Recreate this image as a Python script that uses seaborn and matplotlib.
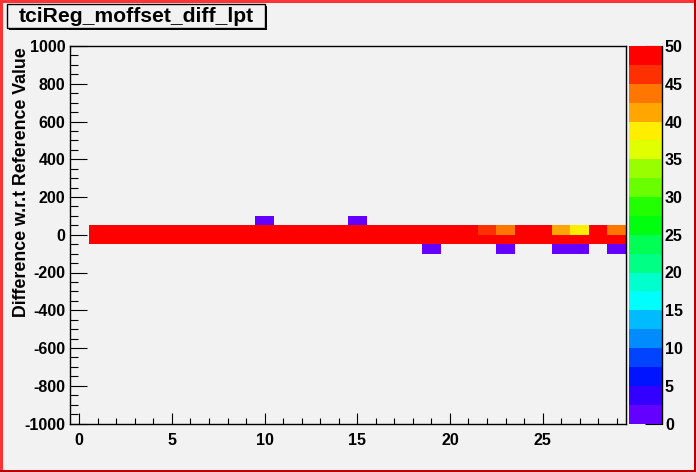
import colorsys
import numpy as np
import pandas as pd
import seaborn as sns
import matplotlib.pyplot as plt
from matplotlib.colors import ListedColormap
from matplotlib.patches import Rectangle

# Chart text
title = "tciReg_moffset_diff_lpt"
y_title = "Difference w.r.t Reference Value"

# Histogram binning: 30 x bins of width 1, 40 y bins of width 50
x_lo, x_hi, x_bw = -0.5, 29.5, 1.0
y_lo, y_hi, y_bw = -1000, 1000, 50

# Filled x bins and the entries in each filled y row
x_bins = [1, 2, 3, 4, 5, 6, 7, 8, 9, 10, 11, 12, 13, 14, 15,
          16, 17, 18, 19, 20, 21, 22, 23, 24, 25, 26, 27, 28, 29]
row_m100 = [0, 0, 0, 0, 0, 0, 0, 0, 0, 0, 0, 0, 0, 0, 0,
            0, 0, 0, 1, 0, 0, 0, 1, 0, 0, 1, 1, 0, 1]
row_m50 = [50, 50, 50, 50, 50, 50, 50, 50, 50, 50, 50, 50, 50, 50, 50,
           50, 50, 50, 50, 50, 50, 50, 50, 50, 50, 50, 50, 50, 50]
row_0 = [50, 50, 50, 50, 50, 50, 50, 50, 50, 50, 50, 50, 50, 50, 50,
         50, 50, 50, 50, 50, 50, 46, 44, 50, 50, 41, 39, 50, 44]
row_50 = [0, 0, 0, 0, 0, 0, 0, 0, 0, 1, 0, 0, 0, 0, 1,
          0, 0, 0, 0, 0, 0, 0, 0, 0, 0, 0, 0, 0, 0]
rows = {-100: row_m100, -50: row_m50, 0: row_0, 50: row_50}

x_ticks = [0, 5, 10, 15, 20, 25]
y_ticks = [-1000, -800, -600, -400, -200, 0, 200, 400, 600, 800, 1000]
z_ticks = [0, 5, 10, 15, 20, 25, 30, 35, 40, 45, 50]

# ROOT "pretty" palette with 20 contour levels
pal = []
for j in range(20):
    k = int((j + 0.99) * 50 / 20)
    if k == 49:
        pal.append((1.0, 0.0, 0.0))
    else:
        hue = 280 - (k + 1) * 5.6
        pal.append(colorsys.hls_to_rgb(hue / 360.0, 0.5, 1.0))
cmap = ListedColormap(pal)

# Build grid (top row first, as heatmap draws it)
nx = int(round((x_hi - x_lo) / x_bw))
ny = int((y_hi - y_lo) / y_bw)
z = np.zeros((ny, nx))
for y_low, vals in rows.items():
    r = ny - 1 - int((y_low - y_lo) / y_bw)
    for xb, v in zip(x_bins, vals):
        z[r, int(round(xb - x_lo - 0.5))] = v
df = pd.DataFrame(z)

sns.set_style("ticks")
plt.rcParams['font.family'] = ['Liberation Sans', 'DejaVu Sans']
plt.rcParams['font.weight'] = 'bold'
plt.rcParams['text.color'] = 'black'
plt.rcParams['xtick.color'] = 'black'
plt.rcParams['ytick.color'] = 'black'
bg = '#f2f2f2'

W, H = 696, 472
fig = plt.figure(figsize=(W / 100, H / 100), dpi=100, facecolor=bg)


def fr(x0, y0, x1, y1):
    # pixel box (top-left origin) -> figure fraction rect
    return [x0 / W, 1 - y1 / H, (x1 - x0) / W, (y1 - y0) / H]


ax = fig.add_axes(fr(70, 46, 626, 423.5))
cax = fig.add_axes(fr(629, 46, 661.5, 423.5))
ax.set_facecolor(bg)

sns.heatmap(df, mask=(df == 0), cmap=cmap, vmin=0, vmax=50, ax=ax,
            cbar_ax=cax, xticklabels=False, yticklabels=False)

for s in ax.spines.values():
    s.set_visible(True)
    s.set_color('black')
    s.set_linewidth(1)

# map data values to heatmap cell coordinates
ax.set_xticks([(v - x_lo) / x_bw for v in x_ticks])
ax.set_xticklabels([str(v) for v in x_ticks])
ax.set_xticks([(v - x_lo) / x_bw for v in range(0, 30)], minor=True)
ax.set_yticks([(y_hi - v) / y_bw for v in y_ticks])
ax.set_yticklabels([str(v) for v in y_ticks])
ax.set_yticks([(y_hi - v) / y_bw for v in range(-1000, 1001, 50)], minor=True)

ax.tick_params(axis='x', which='major', direction='in', length=8.1, width=0.8,
               pad=7, labelsize=11.5, top=False, bottom=True, colors='black')
ax.tick_params(axis='x', which='minor', direction='in', length=4.1, width=0.8,
               top=False, bottom=True)
ax.tick_params(axis='y', which='major', direction='in', length=12, width=0.8,
               pad=3.5, labelsize=11.5, left=True, right=False, colors='black')
ax.tick_params(axis='y', which='minor', direction='in', length=6, width=0.8,
               left=True, right=False)
for lab in ax.get_xticklabels() + ax.get_yticklabels():
    lab.set_fontweight('bold')
    lab.set_rotation(0)
ax.set_xlabel("")
ax.set_ylabel("")

# colour scale
cbar = ax.collections[0].colorbar
cbar.outline.set_visible(False)
cbar.set_ticks(z_ticks)
cbar.set_ticklabels([str(v) for v in z_ticks])
cax.tick_params(direction='in', length=12, width=0.8, right=True, left=False,
                pad=2.5, labelsize=11.5, colors='black')
for lab in cax.get_yticklabels():
    lab.set_fontweight('bold')
cax.axvline(1, color='black', lw=1, clip_on=False)

# axis title, right-aligned to top of frame
fig.text(22 / W, 1 - 47 / H, y_title, rotation=90, ha='center', va='top',
         fontsize=12.8, fontweight='bold', color='black')

# title box with shadow
sh = fr(9, 6, 267, 30)
fig.patches.append(Rectangle(sh[:2], sh[2], sh[3], transform=fig.transFigure,
                             facecolor='black', edgecolor='none'))
bx = fr(7, 4, 265, 28)
fig.patches.append(Rectangle(bx[:2], bx[2], bx[3], transform=fig.transFigure,
                             facecolor=bg, edgecolor='black', linewidth=1))
fig.text(136 / W, 1 - 16.5 / H, title, ha='center', va='center',
         fontsize=15.2, fontweight='bold', color='black')

# canvas border
light, dark = '#ff3333', '#bb0000'
for box, col in [((0, 0, 696, 2.5), light), ((0, 0, 2.5, 472), light),
                 ((693.5, 0, 696, 472), dark), ((0, 469.5, 696, 472), dark)]:
    r = fr(*box)
    fig.patches.append(Rectangle(r[:2], r[2], r[3], transform=fig.transFigure,
                                 facecolor=col, edgecolor='none'))

fig.savefig("out.png", dpi=100, facecolor=bg)
